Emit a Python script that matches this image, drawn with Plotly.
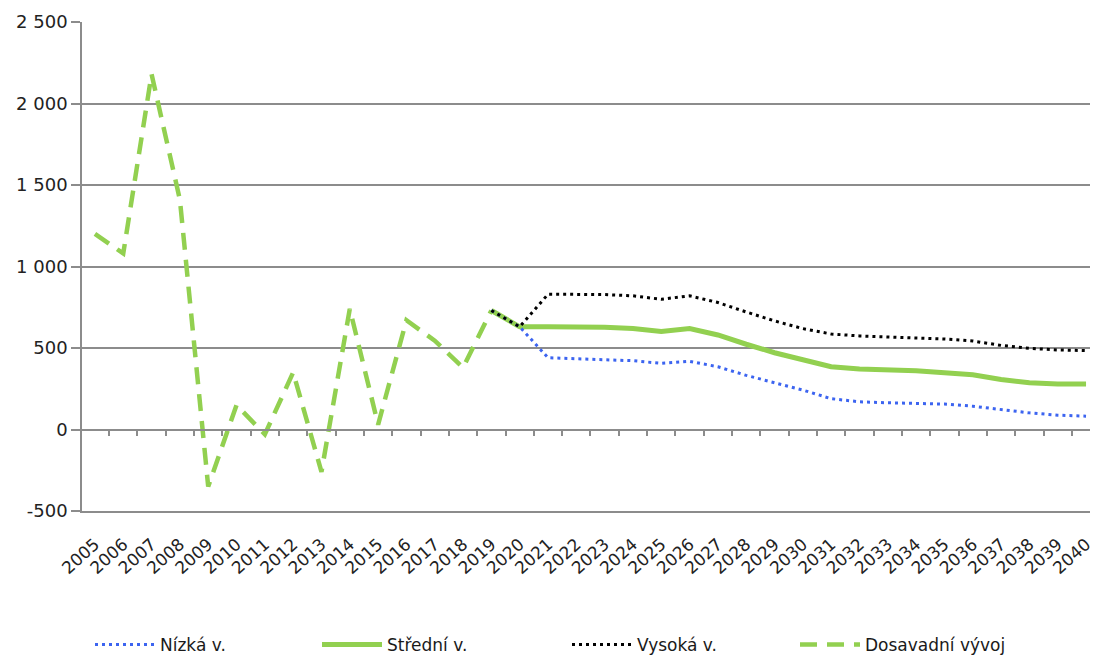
import plotly.graph_objects as go

# Historical development 2005-2019
years_hist = list(range(2005, 2020))
dosavadni = [1200, 1080, 2180, 1410, -350, 150, -30, 350, -260, 740, 30, 670, 545, 380, 730]

# Projection variants 2019-2040
years_proj = list(range(2019, 2041))
nizka = [730, 630, 440, 434, 430, 422, 406, 418, 385, 332, 287, 242, 189, 170, 164, 162, 156, 143, 123, 102, 88, 82]
stredni = [730, 630, 630, 629, 627, 619, 602, 619, 580, 523, 471, 428, 385, 371, 367, 361, 348, 336, 307, 287, 279, 279]
vysoka = [730, 630, 830, 830, 828, 820, 799, 820, 779, 721, 666, 619, 586, 574, 568, 561, 555, 543, 516, 498, 488, 484]

# Axis labels
all_years = list(range(2005, 2041))
x_ticktext = [str(y) for y in all_years]
y_tickvals = [-500, 0, 500, 1000, 1500, 2000, 2500]
y_ticktext = ["-500", "0", "500", "1 000", "1 500", "2 000", "2 500"]

GREEN = "#92D050"
BLUE = "#3C64F0"
GRID = "#8C8C8C"
FONT = "DejaVu Sans"

fig = go.Figure()

fig.add_trace(go.Scatter(
    x=years_hist, y=dosavadni, name="Dosavadní vývoj", mode="lines",
    line=dict(color=GREEN, width=4.5, dash="17px,10px"), legend="legend4",
))
fig.add_trace(go.Scatter(
    x=years_proj, y=stredni, name="Střední v.", mode="lines",
    line=dict(color=GREEN, width=5), legend="legend2",
))
fig.add_trace(go.Scatter(
    x=years_proj, y=nizka, name="Nízká v.", mode="lines",
    line=dict(color=BLUE, width=3, dash="3px,4px"), legend="legend",
))
fig.add_trace(go.Scatter(
    x=years_proj, y=vysoka, name="Vysoká v.", mode="lines",
    line=dict(color="#000000", width=3, dash="3px,4px"), legend="legend3",
))

# invisible carrier for the category tick marks along the zero line
fig.add_trace(go.Scatter(
    x=all_years, y=[0] * len(all_years), xaxis="x2", mode="lines",
    line=dict(width=0), opacity=0, showlegend=False, hoverinfo="skip",
))

x_range = [2004.543, 2040.14]

legend_common = dict(
    orientation="h", xref="container", yref="container", yanchor="middle",
    xanchor="left", y=1 - 645 / 658, bgcolor="rgba(0,0,0,0)", itemwidth=60,
    font=dict(family=FONT, size=17, color="#1a1a1a"),
)

fig.update_layout(
    width=1097, height=658,
    margin=dict(l=82, r=3, t=22, b=147),
    paper_bgcolor="white", plot_bgcolor="white",
    font=dict(family=FONT, size=17, color="#222222"),
    showlegend=True,
    legend=dict(legend_common, x=90 / 1097),
    legend2=dict(legend_common, x=317 / 1097),
    legend3=dict(legend_common, x=567 / 1097),
    legend4=dict(legend_common, x=795 / 1097),
    xaxis=dict(
        range=x_range, tickmode="array", tickvals=all_years, ticktext=x_ticktext,
        tickangle=-42, tickfont=dict(family=FONT, size=17, color="#222222"),
        showgrid=False, zeroline=False, showline=True, linecolor=GRID, linewidth=1.5,
        ticks="", ticklabelstandoff=15, ticklabeloverflow="allow",
    ),
    xaxis2=dict(
        range=x_range, overlaying="x", anchor="free", position=500 / 3000,
        tickmode="array", tickvals=[y + 0.5 for y in all_years[:-1]] + [2004.5],
        showticklabels=False, ticks="outside", ticklen=6, tickwidth=1.5, tickcolor=GRID,
        showgrid=False, zeroline=False, showline=True, linecolor=GRID, linewidth=1.5,
    ),
    yaxis=dict(
        range=[-500, 2500], tickmode="array", tickvals=y_tickvals, ticktext=y_ticktext,
        tickfont=dict(family=FONT, size=18, color="#222222"),
        showgrid=True, gridcolor=GRID, gridwidth=1.5, zeroline=False,
        showline=True, linecolor=GRID, linewidth=1.5,
        ticks="outside", ticklen=9, tickwidth=1.5, tickcolor=GRID,
    ),
)

fig.write_html("out.html")
